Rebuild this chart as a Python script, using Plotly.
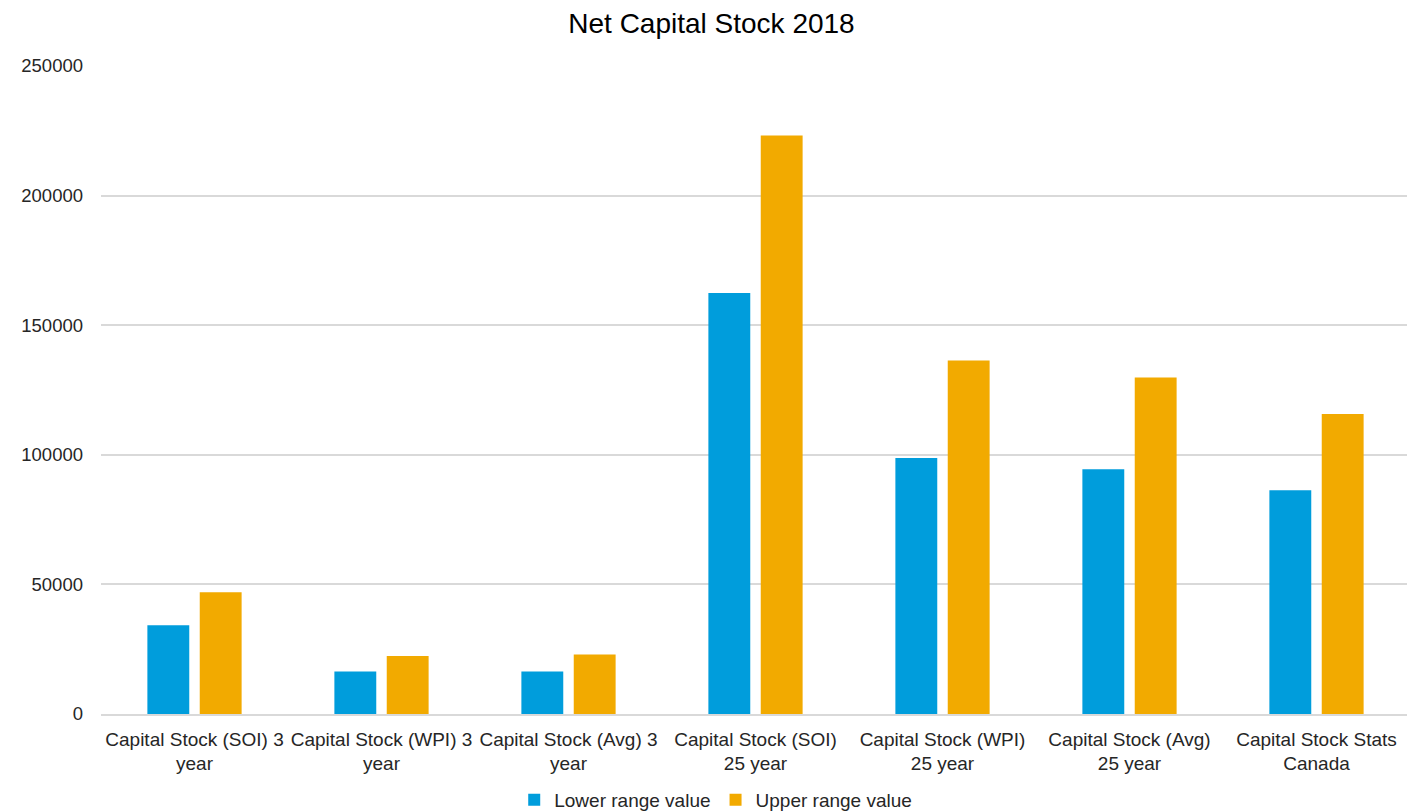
import plotly.graph_objects as go

categories = [
    "Capital Stock (SOI) 3<br>year",
    "Capital Stock (WPI) 3<br>year",
    "Capital Stock (Avg) 3<br>year",
    "Capital Stock (SOI)<br>25 year",
    "Capital Stock (WPI)<br>25 year",
    "Capital Stock (Avg)<br>25 year",
    "Capital Stock Stats<br>Canada",
]
lower_values = [34200, 16400, 16400, 162400, 98800, 94400, 86300]
upper_values = [47000, 22400, 23000, 223200, 136400, 129800, 115700]
y_ticks = [0, 50000, 100000, 150000, 200000, 250000]

font_family = "Liberation Sans, Arial, sans-serif"

fig = go.Figure()
fig.add_trace(go.Bar(name="Lower range value", x=categories, y=lower_values,
                     marker=dict(color="#009DDC", line=dict(width=0))))
fig.add_trace(go.Bar(name="Upper range value", x=categories, y=upper_values,
                     marker=dict(color="#F2AA00", line=dict(width=0))))

fig.update_layout(
    width=1407, height=803,
    paper_bgcolor="white", plot_bgcolor="white",
    font=dict(family=font_family, color="#262626", size=18),
    title=dict(text="Net Capital Stock 2018", x=0.5, xref="container", xanchor="center",
               y=0.9805, yref="container", yanchor="middle",
               font=dict(family=font_family, size=28, color="#000000")),
    margin=dict(l=93, r=5, t=58, b=97),
    barmode="group", bargap=0.44, bargroupgap=0.2,
    showlegend=True,
    legend=dict(orientation="h", x=0.503, xref="container", xanchor="center",
                y=0.0137, yref="container", yanchor="middle",
                font=dict(size=19, color="#262626"), itemwidth=30,
                traceorder="normal"),
    xaxis=dict(showline=True, linecolor="#D9D9D9", linewidth=1.5, ticks="",
               ticklabelstandoff=7, tickangle=0,
               tickfont=dict(size=19, color="#262626"), showgrid=False),
    yaxis=dict(range=[0, 250000], tickvals=y_ticks, tickformat="d",
               showgrid=True, gridcolor="#D9D9D9", gridwidth=1.5,
               zeroline=False, showline=False, ticks="", ticklabelstandoff=17,
               tickfont=dict(size=18.5, color="#262626")),
)

fig.write_html("out.html")
